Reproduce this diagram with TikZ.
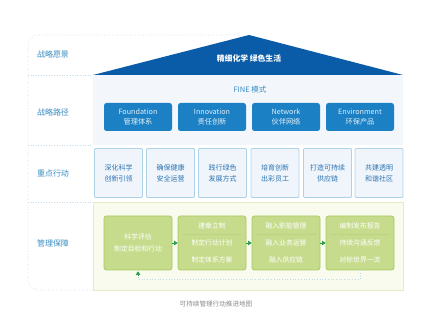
\documentclass[tikz,border=0pt]{standalone}
\usepackage{fontspec}
\setmainfont{Noto Sans CJK SC}
\usetikzlibrary{arrows.meta}
\definecolor{roofblue}{HTML}{0A5BA8}
\definecolor{boxblue}{HTML}{1B80C4}
\definecolor{labblue}{HTML}{3A8CC2}
\definecolor{frameblue}{HTML}{C3DAEA}
\definecolor{pathbg}{HTML}{F3F7FC}
\definecolor{actfill}{HTML}{EFF5FB}
\definecolor{actdraw}{HTML}{AFD3E6}
\definecolor{acttext}{HTML}{2C74B2}
\definecolor{gfill}{HTML}{C6DC8C}
\definecolor{gdraw}{HTML}{A8CA64}
\definecolor{gbg}{HTML}{F8FBEE}
\definecolor{gbgdraw}{HTML}{E1EDC3}
\definecolor{garrow}{HTML}{23994A}
\definecolor{capgray}{HTML}{8A8A8A}
\tikzset{
  rowlabel/.style={text=labblue,font=\fontsize{8}{9}\selectfont,inner sep=0pt},
  pathbox/.style={fill=boxblue,rounded corners=2.5pt,minimum width=68pt,minimum height=28pt,
    text=white!88!boxblue,align=center,font=\fontsize{7.2}{10}\selectfont,inner sep=0pt},
  actbox/.style={fill=actfill,draw=actdraw,line width=0.8pt,rounded corners=1pt,minimum width=48pt,minimum height=49pt,
    text=acttext,align=center,font=\fontsize{7}{11}\selectfont,inner sep=0pt},
  gbox/.style={fill=gfill,draw=gdraw,line width=0.8pt,rounded corners=2.5pt,minimum width=68pt,minimum height=54pt,
    text=white,align=center,font=\fontsize{6.8}{11.5}\selectfont,inner sep=0pt},
  gline/.style={text=white,font=\fontsize{6.8}{8}\selectfont,inner sep=0pt},
  sep/.style={draw=frameblue,dotted,line width=0.6pt},
  flow/.style={-{Triangle[length=3.5pt,width=4.5pt]},draw=garrow,line width=0.6pt},
  fb/.style={draw=frameblue,dotted,line width=0.7pt},
}
\begin{document}
\begin{tikzpicture}[x=1pt,y=-1pt]
\useasboundingbox (0,0) rectangle (434,336);
% outer frame (left part)
\draw[sep,rounded corners=10pt] (93,290) -- (28,290) -- (28,35) -- (240,35);
% row separators in label column
\draw[sep] (28,75) -- (93,75);
\draw[sep] (28,145) -- (93,145);
\draw[sep] (28,202) -- (93,202);
% labels
\node[rowlabel] (l1) at (53,54) {战略愿景};
\node[rowlabel] (l2) at (53,112) {战略路径};
\node[rowlabel] (l3) at (53,173) {重点行动};
\node[rowlabel] (l4) at (53,243) {管理保障};
% roof
\fill[roofblue] (93,75) -- (249,35) -- (403,75) -- cycle;
\node[text=white,font=\bfseries\fontsize{7.8}{9}\selectfont,inner sep=0pt] (vision) at (249,59) {精细化学 绿色生活};
% path panel
\fill[pathbg] (93,75) rectangle (403,145);
\node[text=labblue,font=\fontsize{7.5}{9}\selectfont,inner sep=0pt] (fine) at (250,90) {FINE 模式};
\node[pathbox] (p1) at (138,117) {Foundation\\管理体系};
\node[pathbox] (p2) at (212,117) {Innovation\\责任创新};
\node[pathbox] (p3) at (286,117) {Network\\伙伴网络};
\node[pathbox] (p4) at (360,117) {Environment\\环保产品};
% key actions
\node[actbox] (a1) at (118.5,173) {深化科学\\创新引领};
\node[actbox] (a2) at (170.5,173) {确保健康\\安全运营};
\node[actbox] (a3) at (222.5,173) {践行绿色\\发展方式};
\node[actbox] (a4) at (275,173) {培育创新\\出彩员工};
\node[actbox] (a5) at (327.5,173) {打造可持续\\供应链};
\node[actbox] (a6) at (379,173) {共建透明\\和谐社区};
% management panel
\draw[fill=gbg,draw=gbgdraw,line width=0.7pt] (93,202) rectangle (403,290);
\node[gbox] (g1) at (138,243) {科学评估\\制定目标和行动};
\node[gbox] (g2) at (212,243) {};
\node[gbox] (g3) at (286,243) {};
\node[gbox] (g4) at (360,243) {};
\foreach \n/\a/\b/\c in {g2/建章立制/制定行动计划/制定体系方案,g3/融入职能管理/融入业务运营/融入供应链,g4/编制发布报告/持续沟通反馈/对标世界一流}{
  \node[gline] (\n t) at ([yshift=17pt]\n.center) {\a};
  \node[gline] (\n m) at (\n.center) {\b};
  \node[gline] (\n b) at ([yshift=-17pt]\n.center) {\c};
  \draw[draw=gdraw!80!white,line width=0.6pt] ([xshift=-30pt,yshift=9pt]\n.center) -- ([xshift=30pt,yshift=9pt]\n.center);
}
\draw[flow] (g1) -- (g2);
\draw[flow] (g2) -- (g3);
\draw[flow] (g3) -- (g4);
\coordinate (fbend) at ([yshift=-4pt]g1.south);
\draw[fb] (g4.south) -- ++(0,9) -| (fbend);
\draw[-{Triangle[length=3.5pt,width=4.5pt]},draw=garrow,line width=0.6pt] ([yshift=-5pt]g1.south) -- ([yshift=-1pt]g1.south);
% caption
\node[text=capgray,font=\fontsize{6.6}{8}\selectfont,inner sep=0pt] (cap) at (216,304) {可持续管理行动推进地图};
\end{tikzpicture}
\end{document}
